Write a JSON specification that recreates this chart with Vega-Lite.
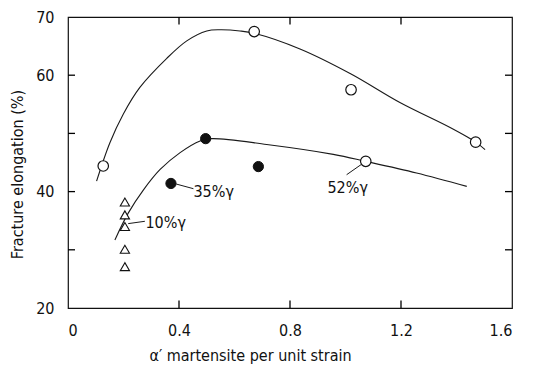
{
  "$schema": "https://vega.github.io/schema/vega-lite/v6.json",
  "width": 444,
  "height": 291,
  "autosize": {"type": "none"},
  "padding": {"left": 68, "top": 17, "right": 33, "bottom": 58},
  "background": "white",
  "config": {
    "view": {"stroke": "#111", "strokeWidth": 1.2},
    "font": "DejaVu Sans Condensed, Liberation Sans, sans-serif",
    "axis": {"labelFont": "DejaVu Sans Condensed, Liberation Sans, sans-serif", "titleFont": "DejaVu Sans Condensed, Liberation Sans, sans-serif", "labelColor": "#111", "titleColor": "#111", "domain": false, "grid": false, "ticks": false, "titleFontWeight": "normal"}
  },
  "datasets": {
    "curves": [
      {"curve": "upper", "x": 0.103, "y": 41.8},
      {"curve": "upper", "x": 0.151, "y": 48.4},
      {"curve": "upper", "x": 0.199, "y": 53.3},
      {"curve": "upper", "x": 0.259, "y": 57.9},
      {"curve": "upper", "x": 0.356, "y": 62.9},
      {"curve": "upper", "x": 0.428, "y": 65.9},
      {"curve": "upper", "x": 0.5, "y": 67.6},
      {"curve": "upper", "x": 0.548, "y": 67.8},
      {"curve": "upper", "x": 0.62, "y": 67.6},
      {"curve": "upper", "x": 0.671, "y": 67.2},
      {"curve": "upper", "x": 0.836, "y": 64.5},
      {"curve": "upper", "x": 1.02, "y": 60.2},
      {"curve": "upper", "x": 1.196, "y": 55.3},
      {"curve": "upper", "x": 1.377, "y": 51.0},
      {"curve": "upper", "x": 1.469, "y": 48.5},
      {"curve": "upper", "x": 1.503, "y": 47.2},
      {"curve": "lower", "x": 0.169, "y": 31.7},
      {"curve": "lower", "x": 0.217, "y": 36.3},
      {"curve": "lower", "x": 0.272, "y": 40.3},
      {"curve": "lower", "x": 0.332, "y": 43.8},
      {"curve": "lower", "x": 0.404, "y": 46.7},
      {"curve": "lower", "x": 0.476, "y": 48.7},
      {"curve": "lower", "x": 0.518, "y": 49.1},
      {"curve": "lower", "x": 0.716, "y": 48.1},
      {"curve": "lower", "x": 0.956, "y": 46.4},
      {"curve": "lower", "x": 1.073, "y": 45.2},
      {"curve": "lower", "x": 1.256, "y": 43.2},
      {"curve": "lower", "x": 1.437, "y": 40.9}
    ],
    "open": [
      {"x": 0.127, "y": 44.4},
      {"x": 0.671, "y": 67.5},
      {"x": 1.02, "y": 57.5},
      {"x": 1.073, "y": 45.2},
      {"x": 1.469, "y": 48.5}
    ],
    "filled": [
      {"x": 0.371, "y": 41.4},
      {"x": 0.496, "y": 49.1},
      {"x": 0.686, "y": 44.3}
    ],
    "tri": [
      {"x": 0.205, "y": 38.2},
      {"x": 0.205, "y": 36.0},
      {"x": 0.205, "y": 34.0},
      {"x": 0.205, "y": 30.1},
      {"x": 0.205, "y": 27.1}
    ],
    "leaders": [
      {"x": 0.39, "y": 41.3, "x2": 0.452, "y2": 40.5},
      {"x": 0.217, "y": 34.5, "x2": 0.277, "y2": 34.9},
      {"x": 1.004, "y": 42.9, "x2": 1.058, "y2": 44.7}
    ],
    "xticks": [
      {"x": 0.4, "y": 20}, {"x": 0.8, "y": 20}, {"x": 1.2, "y": 20},
      {"x": 0.4, "y": 70}, {"x": 0.8, "y": 70}, {"x": 1.2, "y": 70}
    ],
    "yticks": [
      {"x": 0, "y": 30}, {"x": 0, "y": 40}, {"x": 0, "y": 50}, {"x": 0, "y": 60},
      {"x": 1.6, "y": 30}, {"x": 1.6, "y": 40}, {"x": 1.6, "y": 50}, {"x": 1.6, "y": 60}
    ],
    "labels": [
      {"x": 0.452, "y": 39.9, "text": "35%γ"},
      {"x": 0.279, "y": 34.6, "text": "10%γ"},
      {"x": 0.935, "y": 40.6, "text": "52%γ"}
    ]
  },
  "layer": [
    {
      "data": {"name": "curves"},
      "mark": {"type": "line", "interpolate": "catmull-rom", "color": "#1a1a1a", "strokeWidth": 1.1},
      "encoding": {
        "x": {"field": "x", "type": "quantitative", "scale": {"domain": [0, 1.6], "nice": false, "zero": false},
          "axis": {"orient": "bottom", "values": [0, 0.4, 0.8, 1.2, 1.6], "labelPadding": 14, "labelFontSize": 16, "format": ".1~f",
            "title": "α′ martensite per unit strain", "titleFontSize": 16, "titlePadding": 9, "titleX": 182}},
        "y": {"field": "y", "type": "quantitative", "scale": {"domain": [20, 70], "nice": false, "zero": false},
          "axis": {"orient": "left", "values": [20, 30, 40, 50, 60, 70], "labelPadding": 14, "labelFontSize": 16,
            "labelExpr": "datum.value % 20 == 0 || datum.value == 70 ? datum.label : ''",
            "title": "Fracture elongation (%)", "titleFontSize": 16, "titlePadding": 10, "titleY": 157}},
        "detail": {"field": "curve"}
      }
    },
    {
      "data": {"name": "xticks"},
      "mark": {"type": "tick", "orient": "vertical", "color": "#000", "size": 15, "thickness": 1.3, "opacity": 1, "clip": true},
      "encoding": {
        "x": {"field": "x", "type": "quantitative"},
        "y": {"field": "y", "type": "quantitative"}
      }
    },
    {
      "data": {"name": "yticks"},
      "mark": {"type": "tick", "orient": "horizontal", "color": "#000", "size": 14, "thickness": 1.3, "opacity": 1, "clip": true},
      "encoding": {
        "x": {"field": "x", "type": "quantitative"},
        "y": {"field": "y", "type": "quantitative"}
      }
    },
    {
      "data": {"name": "leaders"},
      "mark": {"type": "rule", "color": "#1a1a1a", "strokeWidth": 1},
      "encoding": {
        "x": {"field": "x", "type": "quantitative"},
        "y": {"field": "y", "type": "quantitative"},
        "x2": {"field": "x2"},
        "y2": {"field": "y2"}
      }
    },
    {
      "data": {"name": "filled"},
      "mark": {"type": "point", "shape": "circle", "filled": true, "fill": "#111", "stroke": "#111", "strokeWidth": 1, "size": 105, "opacity": 1},
      "encoding": {
        "x": {"field": "x", "type": "quantitative"},
        "y": {"field": "y", "type": "quantitative"}
      }
    },
    {
      "data": {"name": "tri"},
      "mark": {"type": "point", "shape": "triangle-up", "filled": true, "fill": "white", "stroke": "#111", "strokeWidth": 1.1, "size": 85, "opacity": 1},
      "encoding": {
        "x": {"field": "x", "type": "quantitative"},
        "y": {"field": "y", "type": "quantitative"}
      }
    },
    {
      "data": {"name": "open"},
      "mark": {"type": "point", "shape": "circle", "filled": true, "fill": "white", "stroke": "#111", "strokeWidth": 1.2, "size": 110, "opacity": 1},
      "encoding": {
        "x": {"field": "x", "type": "quantitative"},
        "y": {"field": "y", "type": "quantitative"}
      }
    },
    {
      "data": {"name": "labels"},
      "mark": {"type": "text", "align": "left", "baseline": "middle", "fontSize": 16, "color": "#111", "font": "DejaVu Sans Condensed, Liberation Sans, sans-serif"},
      "encoding": {
        "x": {"field": "x", "type": "quantitative"},
        "y": {"field": "y", "type": "quantitative"},
        "text": {"field": "text"}
      }
    }
  ]
}
